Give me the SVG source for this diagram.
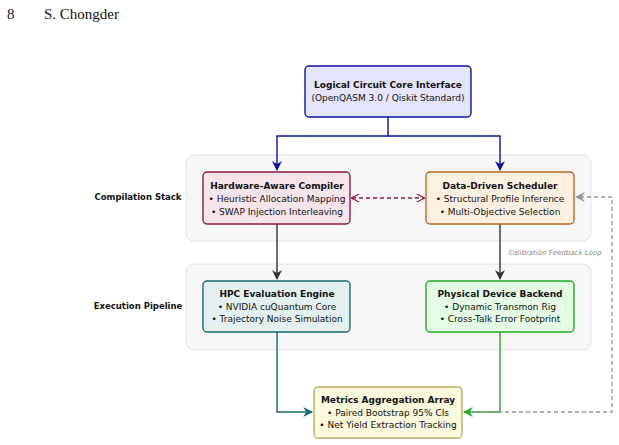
<svg xmlns="http://www.w3.org/2000/svg" width="619" height="445" viewBox="0 0 619 445">
<style>
text{font-family:"DejaVu Sans","Noto Sans",sans-serif;font-size:9px;fill:#111;text-anchor:middle}
.t{font-weight:bold}
.h{font-family:"Liberation Serif",serif;font-size:15px;text-anchor:start}
.side{font-weight:bold;font-size:8.5px}
.panel{fill:#f7f7f7;stroke:#e2e2e2;stroke-width:1}
.box{stroke-width:1.4}
.c{fill:none;stroke-width:1.4}
</style>
<defs>
<marker id="ab" viewBox="0 0 10 10" refX="9" refY="5" markerWidth="7" markerHeight="7" orient="auto-start-reverse"><path d="M0,0 L10,5 L0,10 L3,5 Z" fill="#0a14a0"/></marker>
<marker id="ak" viewBox="0 0 10 10" refX="9" refY="5" markerWidth="7" markerHeight="7" orient="auto-start-reverse"><path d="M0,0 L10,5 L0,10 L3,5 Z" fill="#333"/></marker>
<marker id="at" viewBox="0 0 10 10" refX="9" refY="5" markerWidth="7" markerHeight="7" orient="auto-start-reverse"><path d="M0,0 L10,5 L0,10 L3,5 Z" fill="#1a6b6b"/></marker>
<marker id="ag" viewBox="0 0 10 10" refX="9" refY="5" markerWidth="7" markerHeight="7" orient="auto-start-reverse"><path d="M0,0 L10,5 L0,10 L3,5 Z" fill="#22aa22"/></marker>
<marker id="ar" viewBox="0 0 10 10" refX="9" refY="5" markerWidth="6" markerHeight="6" orient="auto-start-reverse"><path d="M0,0 L10,5 L0,10" fill="none" stroke="#8a1a3a" stroke-width="1.5"/></marker>
<marker id="agr" viewBox="0 0 10 10" refX="9" refY="5" markerWidth="7" markerHeight="7" orient="auto-start-reverse"><path d="M0,0 L10,5 L0,10 L3,5 Z" fill="#999"/></marker>
</defs>
<text class="h" x="7" y="19">8</text>
<text class="h" x="44" y="19">S. Chongder</text>
<rect class="panel" x="186" y="155" width="405" height="86" rx="8"/>
<rect class="panel" x="186" y="264" width="405" height="86" rx="8"/>
<text class="side" x="138" y="200">Compilation Stack</text>
<text class="side" x="138" y="309">Execution Pipeline</text>
<text x="555" y="255" style="font-style:italic;font-size:7px;fill:#888">Calibration Feedback Loop</text>
<g id="connectors">
<path class="c" d="M388,117 V136 H277 V170" stroke="#0a14a0" marker-end="url(#ab)"/>
<path class="c" d="M388,136 H500 V170" stroke="#0a14a0" marker-end="url(#ab)"/>
<path class="c" d="M352,198 H424" stroke="#8a1a3a" stroke-dasharray="4,3" marker-start="url(#ar)" marker-end="url(#ar)"/>
<path class="c" d="M277,224 V279" stroke="#333" marker-end="url(#ak)"/>
<path class="c" d="M500,224 V279" stroke="#333" marker-end="url(#ak)"/>
<path class="c" d="M277,332 V412 H312" stroke="#1a6b6b" marker-end="url(#at)"/>
<path class="c" d="M500,332 V412 H464" stroke="#22aa22" marker-end="url(#ag)"/>
<path class="c" d="M470,412 H612 V197 H576" stroke="#999" stroke-width="1.2" stroke-dasharray="4,3" marker-end="url(#agr)"/>
</g>
<g id="core"><rect class="box" x="305" y="66" width="166" height="51" rx="4" fill="#e4e4fb" stroke="#0a14a0"/>
<text class="t" x="388" y="88">Logical Circuit Core Interface</text><text x="388" y="101">(OpenQASM 3.0 / Qiskit Standard)</text></g>
<g id="compiler"><rect class="box" x="203" y="172" width="147" height="52" rx="4" fill="#f6e4ea" stroke="#8a1a4a"/>
<text class="t" x="277" y="189">Hardware-Aware Compiler</text><text x="277" y="202">• Heuristic Allocation Mapping</text><text x="277" y="215">• SWAP Injection Interleaving</text></g>
<g id="scheduler"><rect class="box" x="426" y="172" width="148" height="52" rx="4" fill="#fdf0e0" stroke="#b86a20"/>
<text class="t" x="500" y="189">Data-Driven Scheduler</text><text x="500" y="202">• Structural Profile Inference</text><text x="500" y="215">• Multi-Objective Selection</text></g>
<g id="hpc"><rect class="box" x="203" y="281" width="147" height="51" rx="4" fill="#e2f0f0" stroke="#1a6b6b"/>
<text class="t" x="277" y="297">HPC Evaluation Engine</text><text x="277" y="310">• NVIDIA cuQuantum Core</text><text x="277" y="322">• Trajectory Noise Simulation</text></g>
<g id="device"><rect class="box" x="426" y="281" width="148" height="51" rx="4" fill="#e4fbe4" stroke="#22aa22"/>
<text class="t" x="500" y="297">Physical Device Backend</text><text x="500" y="310">• Dynamic Transmon Rig</text><text x="500" y="322">• Cross-Talk Error Footprint</text></g>
<g id="metrics"><rect class="box" x="314" y="387" width="148" height="51" rx="4" fill="#fbf8dc" stroke="#b8ad6a"/>
<text class="t" x="388" y="403">Metrics Aggregation Array</text><text x="388" y="416">• Paired Bootstrap 95% CIs</text><text x="388" y="428">• Net Yield Extraction Tracking</text></g>
</svg>
